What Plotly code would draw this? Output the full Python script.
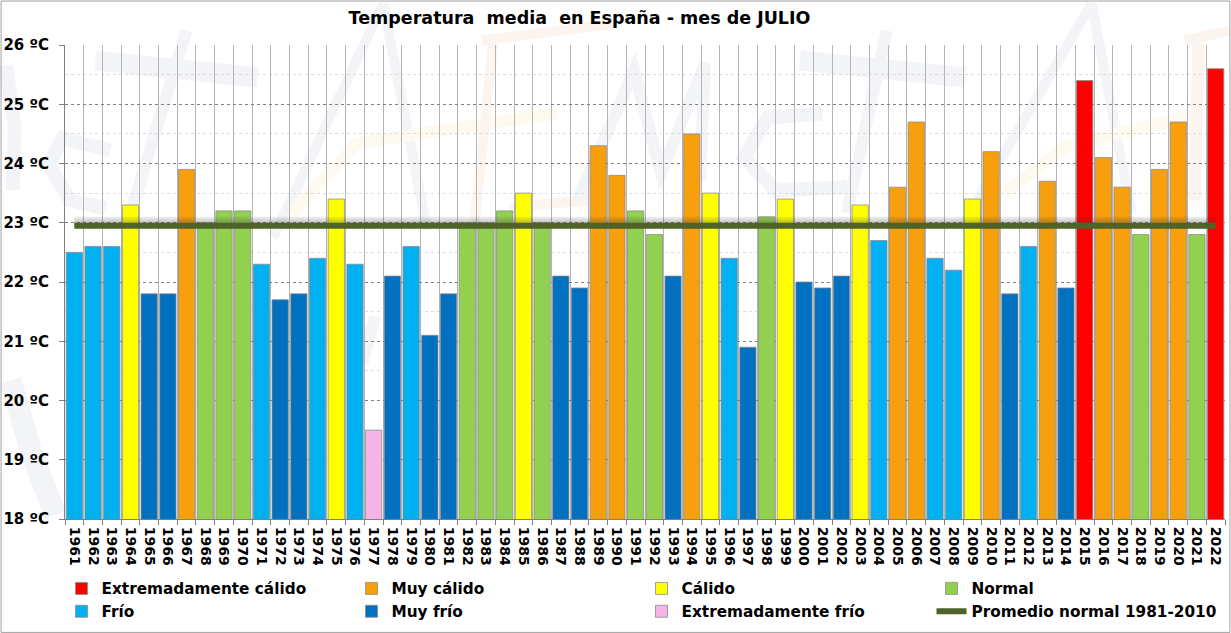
import plotly.graph_objects as go

years = [str(y) for y in range(1961, 2023)]
values = [22.5, 22.6, 22.6, 23.3, 21.8, 21.8, 23.9, 23.0, 23.2, 23.2,
          22.3, 21.7, 21.8, 22.4, 23.4, 22.3, 19.5, 22.1, 22.6, 21.1,
          21.8, 23.0, 23.0, 23.2, 23.5, 23.0, 22.1, 21.9, 24.3, 23.8,
          23.2, 22.8, 22.1, 24.5, 23.5, 22.4, 20.9, 23.1, 23.4, 22.0,
          21.9, 22.1, 23.3, 22.7, 23.6, 24.7, 22.4, 22.2, 23.4, 24.2,
          21.8, 22.6, 23.7, 21.9, 25.4, 24.1, 23.6, 22.8, 23.9, 24.7,
          22.8, 25.6]
classes = ["F", "F", "F", "C", "MF", "MF", "MC", "N", "N", "N",
           "F", "MF", "MF", "F", "C", "F", "EF", "MF", "F", "MF",
           "MF", "N", "N", "N", "C", "N", "MF", "MF", "MC", "MC",
           "N", "N", "MF", "MC", "C", "F", "MF", "N", "C", "MF",
           "MF", "MF", "C", "F", "MC", "MC", "F", "F", "C", "MC",
           "MF", "F", "MC", "MF", "EC", "MC", "MC", "N", "MC", "MC",
           "N", "EC"]
normal_mean = 22.95

# legend order: fills the rows left to right
class_names = {"EC": "Extremadamente cálido", "MC": "Muy cálido", "C": "Cálido", "N": "Normal",
               "F": "Frío", "MF": "Muy frío", "EF": "Extremadamente frío"}
class_colors = {"EC": "#ff0000", "MC": "#f79f0c", "C": "#ffff00", "N": "#92d050",
                "F": "#00b0f0", "MF": "#0070c0", "EF": "#f4b4e8"}
line_color = "#4f6228"

W, H = 1231, 633
L, R, T, B = 64.5, 5.5, 44.5, 114
plot_w = W - L - R
plot_h = H - T - B

# faint logo behind the chart, in page pixels: (colour, width, points)
BLUE, CREAM, SALMON = "#f2f4f8", "#fefaf0", "#fcf4ee"
watermark = [
    (BLUE, 14, [(5, 65), (14, 125), (12, 190)]),
    (BLUE, 22, [(10, 380), (30, 450), (55, 515)]),
    (BLUE, 14, [(110, 150), (62, 138), (48, 165), (70, 200), (105, 208)]),
    (BLUE, 20, [(95, 60), (257, 77)]),
    (BLUE, 12, [(186, 30), (130, 213)]),
    (BLUE, 10, [(383, 3), (273, 237)]),
    (BLUE, 10, [(383, 3), (427, 230)]),
    (BLUE, 12, [(375, 316), (362, 363)]),
    (CREAM, 12, [(292, 213), (356, 143), (557, 113)]),
    (SALMON, 10, [(494, 33), (474, 227)]),
    (SALMON, 10, [(482, 40), (617, 23)]),
    (SALMON, 10, [(510, 207), (589, 200)]),
    (BLUE, 12, [(577, 200), (617, 110), (634, 70), (661, 173), (705, 63), (700, 180)]),
    (BLUE, 14, [(823, 113), (768, 117), (744, 157), (776, 190), (847, 187)]),
    (BLUE, 20, [(800, 60), (966, 77)]),
    (BLUE, 12, [(887, 30), (847, 213)]),
    (BLUE, 10, [(1092, 3), (960, 230)]),
    (BLUE, 10, [(1092, 3), (1132, 213)]),
    (CREAM, 12, [(1005, 193), (1065, 147), (1203, 113)]),
    (SALMON, 12, [(1199, 43), (1195, 200)]),
    (SALMON, 10, [(1185, 40), (1231, 30)]),
]


def px_x(x):
    return (x - L) / plot_w


def px_y(y):
    return (H - B - y) / plot_h


font_bold = dict(family="DejaVu Sans", color="#000000", weight=700)

fig = go.Figure()
for key in class_names:
    xs = [y for y, c in zip(years, classes) if c == key]
    ys = [v for v, c in zip(values, classes) if c == key]
    fig.add_trace(go.Bar(x=xs, y=ys, name=class_names[key], marker_color=class_colors[key],
                         marker_line=dict(color="#8c8c8c", width=0.8)))

# soft shadow around the average line
for offset, width in [(0.05, 12), (0.04, 9), (0.02, 7)]:
    fig.add_trace(go.Scatter(x=years, y=[normal_mean + offset] * len(years), mode="lines",
                             line=dict(color="rgba(60,60,60,0.10)", width=width),
                             showlegend=False, hoverinfo="skip"))
fig.add_trace(go.Scatter(x=years, y=[normal_mean] * len(years), mode="lines", name="Promedio normal 1981-2010",
                         line=dict(color=line_color, width=6)))

shapes = []
for color, width, pts in watermark:
    path = "M " + " L ".join(f"{px_x(x):.4f} {px_y(y):.4f}" for x, y in pts)
    shapes.append(dict(type="path", path=path, xref="paper", yref="paper", layer="below",
                       line=dict(color=color, width=width)))
shapes.append(dict(type="rect", xref="paper", yref="paper", layer="above",
                   x0=px_x(0.5), x1=px_x(W - 0.5), y0=px_y(H - 0.5), y1=px_y(0.5),
                   line=dict(color="#a0a0a0", width=1)))

fig.update_layout(
    width=W, height=H,
    margin=dict(l=L, r=R, t=T, b=B, autoexpand=False),
    paper_bgcolor="white", plot_bgcolor="rgba(0,0,0,0)",
    barmode="overlay", bargap=0.13,
    title=dict(text="Temperatura\u00a0 media\u00a0 en España - mes de JULIO", x=579.5 / W, xanchor="center",
               y=1 - 18 / H, yanchor="middle", font=dict(size=17.5, **font_bold)),
    legend=dict(orientation="h", x=px_x(61), xanchor="left", y=px_y(572), yanchor="top",
                entrywidth=245, entrywidthmode="pixels", font=dict(size=15.3, **font_bold),
                bgcolor="rgba(0,0,0,0)", traceorder="normal"),
    shapes=shapes,
)
fig.update_xaxes(type="category", categoryorder="array", categoryarray=years, tickangle=90, dtick=1,
                 tickson="boundaries", ticks="outside", ticklen=5, tickcolor="#808080", ticklabelstandoff=4,
                 showgrid=True, gridcolor="#b4b4b4", gridwidth=1,
                 showline=True, linecolor="#808080", tickfont=dict(size=14, **font_bold))
fig.update_yaxes(range=[18, 26], dtick=1, ticksuffix=" ºC", ticks="outside", ticklen=5, tickcolor="#808080",
                 ticklabelstandoff=7,
                 showgrid=True, gridcolor="#808080", griddash="dot", gridwidth=1,
                 minor=dict(dtick=0.5, showgrid=True, gridcolor="#dcdcdc", griddash="dot", gridwidth=1),
                 showline=True, linecolor="#808080", tickfont=dict(size=15, **font_bold))

fig.write_html("out.html", config={"displayModeBar": False}, post_script="document.body.style.margin='0';")
